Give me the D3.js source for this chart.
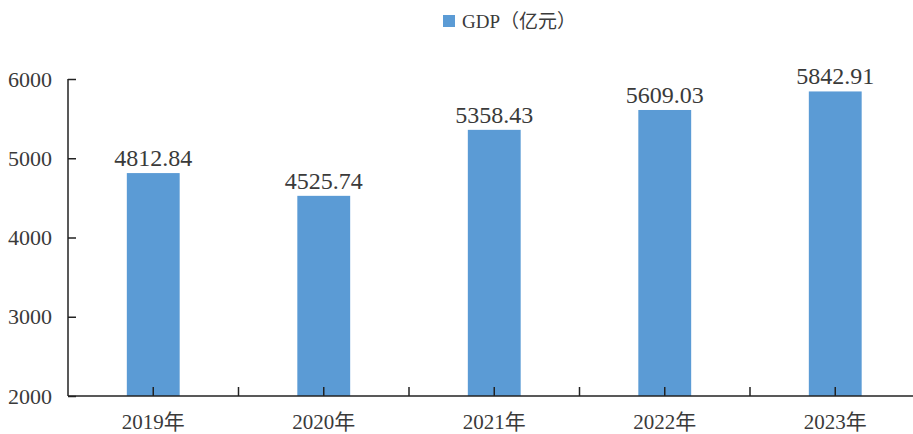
<!DOCTYPE html>
<html>
<head>
<meta charset="utf-8">
<script src="https://cdn.jsdelivr.net/npm/d3@7/dist/d3.min.js"></script>
<style>
  html, body { margin: 0; padding: 0; background: #fff; }
  svg { display: block; }
  text { font-family: "Liberation Serif", "Noto Sans CJK SC", serif; fill: #3a3a3a; }
</style>
</head>
<body>
<svg id="chart" width="913" height="434"></svg>
<script>
const categories = ["2019年", "2020年", "2021年", "2022年", "2023年"];
const gdpValues = [4812.84, 4525.74, 5358.43, 5609.03, 5842.91];
const yTicks = [2000, 3000, 4000, 5000, 6000];
const seriesName = "GDP（亿元）";

(function () {
const svg = d3.select("#chart");
const W = 913, H = 434;
const mLeft = 68, mRight = 920.5, mTop = 79, mBottom = 396;
const barColor = "#5B9BD5";
const axisColor = "#222";

const x = d3.scaleBand().domain(categories).range([mLeft, mRight])
  .paddingInner(0.69).paddingOuter(0.345);
const step = x.step();
const y = d3.scaleLinear().domain([2000, 6000]).range([mBottom, mTop]);

// bars
svg.append("g").selectAll("rect").data(gdpValues).join("rect")
  .attr("x", (d, i) => x(categories[i]))
  .attr("y", d => y(d))
  .attr("width", x.bandwidth())
  .attr("height", d => y(2000) - y(d))
  .attr("fill", barColor);

// value labels
svg.append("g").selectAll("text").data(gdpValues).join("text")
  .attr("x", (d, i) => x(categories[i]) + x.bandwidth() / 2)
  .attr("y", d => y(d) - 7)
  .attr("text-anchor", "middle")
  .style("font-size", "24px")
  .text(d => d.toFixed(2));

// y axis
const yAxis = d3.axisRight(y).tickValues(yTicks).tickSize(8).tickFormat("");
const yg = svg.append("g").attr("transform", `translate(${mLeft},0)`).call(yAxis);
yg.select(".domain").remove();
yg.selectAll(".tick line").attr("stroke", axisColor).attr("stroke-width", 1.5);
svg.append("line").attr("x1", mLeft).attr("x2", mLeft).attr("y1", mTop).attr("y2", mBottom)
  .attr("stroke", axisColor).attr("stroke-width", 1.5);

svg.append("g").selectAll("text").data(yTicks).join("text")
  .attr("x", 52)
  .attr("y", d => y(d))
  .attr("dy", "0.35em")
  .attr("text-anchor", "end")
  .style("font-size", "22px")
  .text(d => d);

// x axis baseline
svg.append("line").attr("x1", mLeft).attr("x2", W).attr("y1", mBottom).attr("y2", mBottom)
  .attr("stroke", axisColor).attr("stroke-width", 1.5);

// x ticks (boundaries and centers, pointing up)
const tickPos = [];
categories.forEach((c, i) => {
  tickPos.push(x(c) + x.bandwidth() / 2);
  tickPos.push(mLeft + step * (i + 1));
});
svg.append("g").selectAll("line").data(tickPos.filter(p => p < W)).join("line")
  .attr("x1", d => d).attr("x2", d => d)
  .attr("y1", mBottom).attr("y2", mBottom - 9)
  .attr("stroke", axisColor).attr("stroke-width", 1.5);

// x labels
svg.append("g").selectAll("text").data(categories).join("text")
  .attr("x", d => x(d) + x.bandwidth() / 2)
  .attr("y", 429)
  .attr("text-anchor", "middle")
  .style("font-size", "21px")
  .text(d => d);

// legend
svg.append("rect").attr("x", 443).attr("y", 15).attr("width", 12).attr("height", 12)
  .attr("fill", barColor);
svg.append("text").attr("x", 462).attr("y", 28)
  .style("font-size", "19px")
  .text(seriesName);
})();
</script>
</body>
</html>
